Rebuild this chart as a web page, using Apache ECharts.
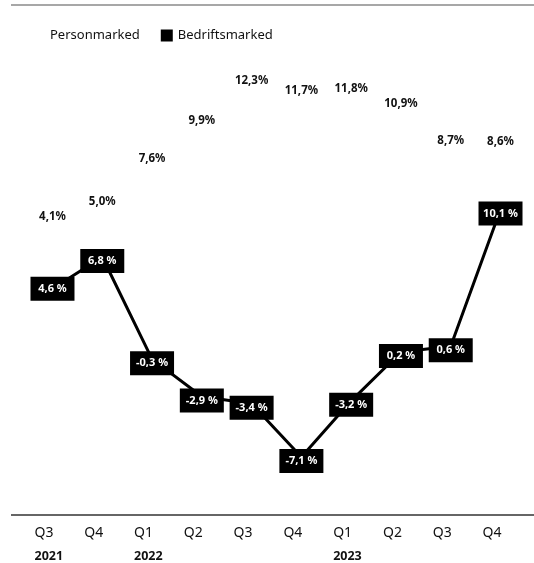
<!DOCTYPE html>
<html>
<head>
<meta charset="utf-8">
<script src="https://cdn.jsdelivr.net/npm/echarts@6/dist/echarts.min.js"></script>
<style>
  html, body { margin: 0; padding: 0; background: #fff; }
  #main { width: 534px; height: 563px; }
</style>
</head>
<body>
<div id="main"></div>
<script>
// kvartaler og år
var quarters = ['Q3', 'Q4', 'Q1', 'Q2', 'Q3', 'Q4', 'Q1', 'Q2', 'Q3', 'Q4'];
var years = ['2021', '', '2022', '', '', '', '2023', '', '', ''];

// vekst i prosent
var personmarked = [4.1, 5.0, 7.6, 9.9, 12.3, 11.7, 11.8, 10.9, 8.7, 8.6];
var bedriftsmarked = [4.6, 6.8, -0.3, -2.9, -3.4, -7.1, -3.2, 0.2, 0.6, 10.1];

var fontName = '"Noto Sans", Lato, sans-serif';

function fmt(v, space) {
  return v.toFixed(1).replace('.', ',') + (space ? ' %' : '%');
}

var categories = quarters.map(function (q, i) { return i; });

var myChart = echarts.init(document.getElementById('main'));

var option = {
  animation: false,
  textStyle: { fontFamily: fontName },
  legend: {
    left: 28,
    top: 24,
    itemWidth: 12,
    itemHeight: 12,
    itemGap: 21,
    textStyle: { fontSize: 13, color: '#111', fontFamily: fontName },
    data: [
      { name: 'Personmarked', icon: 'none' },
      { name: 'Bedriftsmarked', icon: 'rect' }
    ]
  },
  grid: {
    left: 27.6,
    right: 8.6,
    top: 20,
    bottom: 48
  },
  xAxis: {
    type: 'category',
    data: categories,
    boundaryGap: true,
    axisLine: { show: false },
    axisTick: { show: false },
    axisLabel: {
      margin: 16,
      interval: 0,
      formatter: function (v, i) {
        return '{q|' + quarters[i] + '}\n{y|' + (years[i] || ' ') + '}';
      },
      rich: {
        q: { width: 36, align: 'left', fontSize: 14, color: '#111', lineHeight: 23, fontFamily: fontName },
        y: { width: 36, align: 'left', fontSize: 12.5, fontWeight: 'bold', color: '#111', lineHeight: 23, fontFamily: fontName }
      }
    }
  },
  yAxis: [
    { type: 'value', min: -10.51, max: 23.28, show: false, splitLine: { show: false } },
    { type: 'value', min: -13.56, max: 15.87, show: false, splitLine: { show: false } }
  ],
  graphic: [
    { type: 'line', shape: { x1: 11, y1: 5, x2: 534, y2: 5 }, style: { stroke: '#8a8a8a', lineWidth: 1.5 } },
    { type: 'line', shape: { x1: 11, y1: 515, x2: 534, y2: 515 }, style: { stroke: '#333', lineWidth: 1.5 } }
  ],
  series: [
    {
      name: 'Personmarked',
      type: 'line',
      yAxisIndex: 1,
      data: personmarked,
      symbol: 'circle',
      symbolSize: 1,
      itemStyle: { color: 'rgba(0,0,0,0)' },
      lineStyle: { width: 0, color: 'rgba(0,0,0,0)' },
      label: {
        show: true,
        position: 'inside',
        fontSize: 11.5,
        fontWeight: 'bold',
        color: '#111',
        fontFamily: fontName,
        formatter: function (p) { return fmt(p.value, false); }
      },
      labelLayout: { dy: 2 },
      z: 3
    },
    {
      name: 'Bedriftsmarked',
      type: 'line',
      yAxisIndex: 0,
      data: bedriftsmarked,
      symbol: 'circle',
      symbolSize: 2,
      itemStyle: { color: '#000' },
      lineStyle: { color: '#000', width: 3 },
      label: {
        show: true,
        position: 'inside',
        fontSize: 11,
        fontWeight: 'bold',
        color: '#fff',
        fontFamily: fontName,
        backgroundColor: '#000',
        width: 44,
        lineHeight: 12,
        padding: [6, 0],
        align: 'center',
        formatter: function (p) { return fmt(p.value, true); }
      },
      labelLayout: function (params) {
        // første boksen ligger litt høyere enn punktet
        if (params.dataIndex === 0) {
          return { dy: 0 };
        }
        return { dy: 4 };
      },
      z: 4
    }
  ]
};

myChart.setOption(option);
</script>
</body>
</html>
